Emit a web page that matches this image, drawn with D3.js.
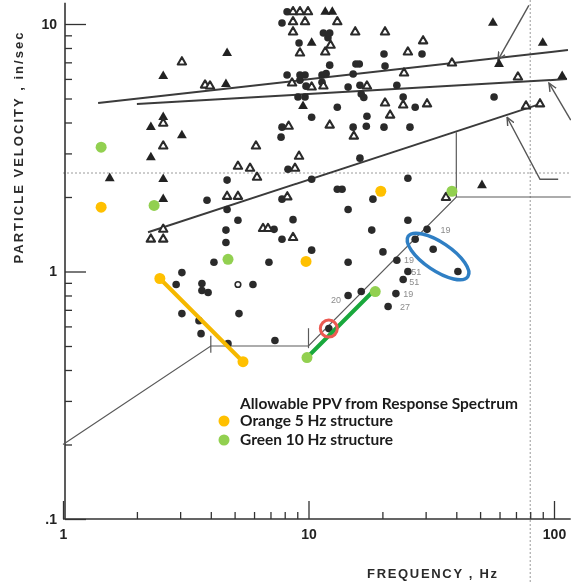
<!DOCTYPE html>
<html>
<head>
<meta charset="utf-8">
<title>Particle velocity vs frequency</title>
<style>
  body { margin: 0; background: #fff; }
  svg { display: block; }
  .axis text { font-family: 'Liberation Sans', Arial, sans-serif; font-weight: bold; font-size: 14px; fill: #222; }
  .axis line { stroke: #333; stroke-width: 1.3; }
  .axis path { display: none; }
  .title { font-family: 'Liberation Sans', Arial, sans-serif; font-weight: bold; font-size: 13px; fill: #2a2a2a; }
  .legend { font-family: Lato, sans-serif; font-weight: bold; font-size: 15.5px; fill: #1b1b1b; }
  .note { font-family: 'Liberation Sans', Arial, sans-serif; font-size: 9px; fill: #8c8c8c; }
</style>
</head>
<body>
<div class="chart"></div>
<script src="https://cdnjs.cloudflare.com/ajax/libs/d3/7.8.5/d3.min.js"></script>
<script>
// measured points, [frequency Hz, particle velocity in/sec]
var dots = [
  [4.66,2.34],[3.86,1.94],[4.66,1.78],[5.16,1.61],[4.61,1.47],[4.61,1.31],[7.24,1.48],[7.80,1.35],
  [4.12,1.09],[6.90,1.09],[3.05,0.99],[2.89,0.886],[3.68,0.894],[3.68,0.838],[3.90,0.822],[5.94,0.886],
  [3.05,0.676],[3.58,0.633],[3.65,0.561],[5.21,0.676],[7.30,0.526],[4.70,0.511],
  [7.8,10.1],[8.18,11.2],[11.5,9.2],[12.2,9.2],[9.15,8.38],[12.0,8.8],[20.3,7.56],[29.0,7.56],
  [12.2,6.82],[15.6,6.89],[16.1,6.89],[20.5,6.76],[8.18,6.22],[9.23,6.22],[9.68,6.22],[11.35,6.22],
  [11.8,6.3],[15.2,6.28],[9.23,5.93],[9.77,5.61],[11.35,5.82],[14.5,5.56],[16.2,5.66],[22.9,5.66],
  [9.06,5.07],[9.68,5.07],[16.4,5.21],[16.8,5.05],[24.3,5.07],[13.1,4.61],[10.3,4.2],[17.3,4.24],
  [27.2,4.61],[57,5.07],[25.9,3.83],[15.2,3.83],[17.2,3.86],[20.3,3.83],[7.8,3.83],[7.73,3.49],
  [8.25,2.59],[16.2,2.87],[10.3,2.36],[13.1,2.15],[13.7,2.15],[18.3,1.96],[25.4,2.38],[7.8,1.96],
  [14.5,1.78],[8.65,1.62],[25.4,1.61],[18.1,1.47],[30.4,1.48],[27.2,1.35],[32.2,1.23],[40.6,1.0],
  [10.3,1.22],[20.1,1.2],[14.5,1.09],[22.9,1.11],[25.4,1.0],[24.3,0.928],[14.5,0.80],[16.4,0.83],
  [22.7,0.814],[21.1,0.722],[12.1,0.588]
];
var openTris = [
  [2.56,3.97],[2.56,3.21],[2.56,1.48],[2.28,1.35],[2.56,1.35],[3.05,7.02],[3.79,5.66],[3.97,5.61],
  [6.11,3.21],[5.16,2.66],[5.78,2.61],[6.17,2.40],[4.66,2.01],[5.16,2.01],[6.53,1.49],[6.84,1.49],
  [8.65,11.2],[9.23,11.2],[9.95,11.2],[8.65,10.2],[9.68,10.2],[13.1,10.2],[8.65,9.28],[15.5,9.28],
  [20.5,9.28],[12.3,8.2],[9.23,7.63],[11.7,7.7],[25.4,7.7],[29.3,8.54],[24.5,6.33],[8.57,5.77],
  [10.3,5.56],[11.5,5.61],[17.3,5.61],[20.5,4.79],[24.3,4.70],[21.5,4.28],[30.4,4.75],[38.4,6.95],
  [71.3,6.1],[76.9,4.66],[87.7,4.75],[12.2,3.9],[15.3,3.52],[8.3,3.86],[9.15,2.92],[8.81,2.61],
  [36.3,1.99],[8.2,2.0],[8.65,1.37]
];
var solidTris = [
  [1.55,2.38],[2.28,3.83],[2.56,4.2],[3.05,3.55],[2.28,2.89],[2.56,2.36],[2.56,1.96],[2.56,6.16],
  [4.66,7.63],[4.61,5.71],[11.7,11.2],[12.5,11.2],[10.3,8.38],[9.5,4.66],[56.4,10.1],[90,8.38],
  [59.7,6.89],[108,6.16],[50.9,2.23]
];
var openDots = [[5.16,0.886]];

// boundary lines
var upperLine = [[1.39,4.79],[114,7.85]];
var middleLine = [[2.0,4.75],[113,5.99]];
var lowerLine = [[2.22,1.44],[90,4.79]];
var spectrumLine = [[1,0.2],[4,0.5],[10,0.5],[40,2.0],[117,2.0]];
var spectrumDrop = [[40,3.65],[40,2.0]];
var spectrumTicks = [[[4,0.55],[4,0.47]],[[10,0.59],[10,0.49]]];
var arrowLines = [
  [[79,11.9],[59.1,7.15]],
  [[117,4.09],[95.4,5.77]],
  [[104,2.36],[87.7,2.36],[64.4,4.2]]
];
var refVelocity = 2.5, refFrequency = 80;

// allowable PPV from response spectrum
var orangePts = [[1.43,1.82],[2.48,0.937],[5.41,0.432],[9.77,1.098],[19.7,2.11]];
var orangeSeg = [[2.48,0.937],[5.41,0.432]];
var greenPts = [[1.43,3.18],[2.35,1.85],[4.70,1.12],[9.86,0.449],[18.7,0.83],[38.4,2.11]];
var greenSeg = [[10.1,0.46],[18.3,0.83]];
var redMark = [12.1, 0.588];
var blueMark = [33.7, 1.15];

var notes = [
  [34.5,1.48,'19'],[24.5,1.11,'19'],[26.2,1.0,'51'],[25.7,0.911,'51'],
  [24.3,0.814,'19'],[23.6,0.722,'27'],[12.35,0.77,'20']
];
var legendItems = [
  {color: '#ffc000', text: 'Orange 5 Hz structure'},
  {color: '#92d050', text: 'Green 10 Hz structure'}
];
var xMajor = [1, 10, 100];
var yMajor = [0.1, 1, 10];
var xMinor = [2,3,4,5,6,7,8,9,20,30,40,50,60,70,80,90];
var yMinor = [0.2,0.3,0.4,0.5,0.6,0.7,0.8,0.9,2,3,4,5,6,7,8,9];

var W = 571, H = 582;
var svg = d3.select('.chart').append('svg').attr('width', W).attr('height', H);

var x = d3.scaleLog().domain([1, 100]).range([63, 554]);
var y = d3.scaleLog().domain([0.1, 10]).range([519, 24]);
var xEnd = 117, yTop = 12.2;

var line = d3.line().x(function(d) { return x(d[0]); }).y(function(d) { return y(d[1]); });

// the scanned chart is a little soft
svg.append('defs').append('filter').attr('id', 'soft')
  .append('feGaussianBlur').attr('stdDeviation', 0.35);
var scan = svg.append('g').attr('filter', 'url(#soft)');

// dotted reference lines
scan.append('line')
  .attr('x1', x(1)).attr('x2', x(xEnd)).attr('y1', y(refVelocity)).attr('y2', y(refVelocity))
  .attr('stroke', '#9a9a9a').attr('stroke-width', 1).attr('stroke-dasharray', '2,2');
scan.append('line')
  .attr('x1', x(refFrequency)).attr('x2', x(refFrequency)).attr('y1', 0).attr('y2', H)
  .attr('stroke', '#9a9a9a').attr('stroke-width', 1).attr('stroke-dasharray', '2,2');

// axes
function fmtX(d) { return d; }
function fmtY(d) { return d == 0.1 ? '.1' : d; }

scan.append('g').attr('class', 'axis')
  .attr('transform', 'translate(0,519)')
  .call(d3.axisBottom(x).tickValues(xMinor).tickSizeInner(-7).tickSizeOuter(0).tickFormat(''));
scan.append('g').attr('class', 'axis')
  .attr('transform', 'translate(0,519)')
  .call(d3.axisBottom(x).tickValues(xMajor).tickSizeInner(-18).tickSizeOuter(0).tickPadding(10).tickFormat(fmtX));
scan.append('g').attr('class', 'axis')
  .attr('transform', 'translate(65,0)')
  .call(d3.axisLeft(y).tickValues(yMinor).tickSizeInner(-7).tickSizeOuter(0).tickFormat(''));
scan.append('g').attr('class', 'axis')
  .attr('transform', 'translate(65,0)')
  .call(d3.axisLeft(y).tickValues(yMajor).tickSizeInner(-21).tickSizeOuter(0).tickPadding(8).tickFormat(fmtY));

scan.append('line').attr('x1', 63).attr('x2', x(xEnd)).attr('y1', 519).attr('y2', 519)
  .attr('stroke', '#333').attr('stroke-width', 1.6);
scan.append('line').attr('x1', 65).attr('x2', 65).attr('y1', y(yTop)).attr('y2', 519)
  .attr('stroke', '#333').attr('stroke-width', 1.6);

scan.append('text').attr('class', 'title')
  .attr('transform', 'translate(23,148) rotate(-90)')
  .attr('text-anchor', 'middle')
  .attr('textLength', 231).attr('lengthAdjust', 'spacing')
  .text('PARTICLE  VELOCITY , in/sec');
scan.append('text').attr('class', 'title')
  .attr('x', 432).attr('y', 578)
  .attr('text-anchor', 'middle')
  .attr('textLength', 130).attr('lengthAdjust', 'spacing')
  .text('FREQUENCY , Hz');

// boundary lines
[upperLine, middleLine, lowerLine].forEach(function(l) {
  scan.append('path').attr('d', line(l)).attr('fill', 'none')
    .attr('stroke', '#3a3a3a').attr('stroke-width', 2);
});
scan.append('path').attr('d', line(spectrumLine)).attr('fill', 'none')
  .attr('stroke', '#5a5a5a').attr('stroke-width', 1.2);
scan.append('path').attr('d', line(spectrumDrop)).attr('fill', 'none')
  .attr('stroke', '#5a5a5a').attr('stroke-width', 1.2);
spectrumTicks.forEach(function(t) {
  scan.append('path').attr('d', line(t)).attr('stroke', '#5a5a5a').attr('stroke-width', 1.2);
});

// arrows
svg.select('defs').append('marker')
  .attr('id', 'head').attr('viewBox', '0 0 10 10')
  .attr('refX', 9).attr('refY', 5)
  .attr('markerWidth', 9).attr('markerHeight', 9)
  .attr('markerUnits', 'userSpaceOnUse')
  .attr('orient', 'auto')
  .append('path').attr('d', 'M0,1 L9,5 L0,9').attr('fill', 'none')
  .attr('stroke', '#555').attr('stroke-width', 1.6);
arrowLines.forEach(function(a) {
  scan.append('path').attr('d', line(a)).attr('fill', 'none')
    .attr('stroke', '#555').attr('stroke-width', 1.4)
    .attr('marker-end', 'url(#head)');
});

// data points
var tri = d3.symbol().type(d3.symbolTriangle);
scan.append('g').selectAll('circle').data(dots).enter().append('circle')
  .attr('cx', function(d) { return x(d[0]); })
  .attr('cy', function(d) { return y(d[1]); })
  .attr('r', 3.8).attr('fill', '#2b2b2b');
scan.append('g').selectAll('circle').data(openDots).enter().append('circle')
  .attr('cx', function(d) { return x(d[0]); })
  .attr('cy', function(d) { return y(d[1]); })
  .attr('r', 2.8).attr('fill', '#fff').attr('stroke', '#2b2b2b').attr('stroke-width', 1.6);
scan.append('g').selectAll('path').data(solidTris).enter().append('path')
  .attr('d', tri.size(42)())
  .attr('transform', function(d) { return 'translate(' + x(d[0]) + ',' + y(d[1]) + ')'; })
  .attr('fill', '#222');
scan.append('g').selectAll('path').data(openTris).enter().append('path')
  .attr('d', tri.size(30)())
  .attr('transform', function(d) { return 'translate(' + x(d[0]) + ',' + y(d[1]) + ')'; })
  .attr('fill', '#fff').attr('stroke', '#2b2b2b').attr('stroke-width', 2.1)
  .attr('stroke-linejoin', 'round');

scan.append('g').selectAll('text').data(notes).enter().append('text')
  .attr('class', 'note')
  .attr('x', function(d) { return x(d[0]); })
  .attr('y', function(d) { return y(d[1]); })
  .attr('dy', '0.35em')
  .text(function(d) { return d[2]; });

// coloured overlay
svg.append('path').attr('d', line(orangeSeg)).attr('stroke', '#f5b800')
  .attr('stroke-width', 4).attr('stroke-linecap', 'round');
svg.append('path').attr('d', line(greenSeg)).attr('stroke', '#19a83c')
  .attr('stroke-width', 4).attr('stroke-linecap', 'round');
svg.append('g').selectAll('circle').data(orangePts).enter().append('circle')
  .attr('cx', function(d) { return x(d[0]); })
  .attr('cy', function(d) { return y(d[1]); })
  .attr('r', 5.5).attr('fill', '#ffc000');
svg.append('g').selectAll('circle').data(greenPts).enter().append('circle')
  .attr('cx', function(d) { return x(d[0]); })
  .attr('cy', function(d) { return y(d[1]); })
  .attr('r', 5.5).attr('fill', '#92d050');
svg.append('circle')
  .attr('cx', x(redMark[0])).attr('cy', y(redMark[1])).attr('r', 8.5)
  .attr('fill', 'none').attr('stroke', '#ec5a52').attr('stroke-width', 3);
svg.append('ellipse')
  .attr('transform', 'translate(' + x(blueMark[0]) + ',' + y(blueMark[1]) + ') rotate(34)')
  .attr('rx', 36).attr('ry', 14)
  .attr('fill', 'none').attr('stroke', '#2f7fc4').attr('stroke-width', 3.5);

// legend
var legend = svg.append('g').attr('transform', 'translate(224,404)');
legend.append('text').attr('class', 'legend').attr('x', 16).attr('y', 0).attr('dy', '0.35em')
  .text('Allowable PPV from Response Spectrum');
var items = legend.selectAll('g.item').data(legendItems).enter().append('g')
  .attr('class', 'item')
  .attr('transform', function(d, i) { return 'translate(0,' + (17 + i * 19) + ')'; });
items.append('circle').attr('r', 5.5).attr('fill', function(d) { return d.color; });
items.append('text').attr('class', 'legend').attr('x', 16).attr('dy', '0.35em')
  .text(function(d) { return d.text; });
</script>
</body>
</html>
